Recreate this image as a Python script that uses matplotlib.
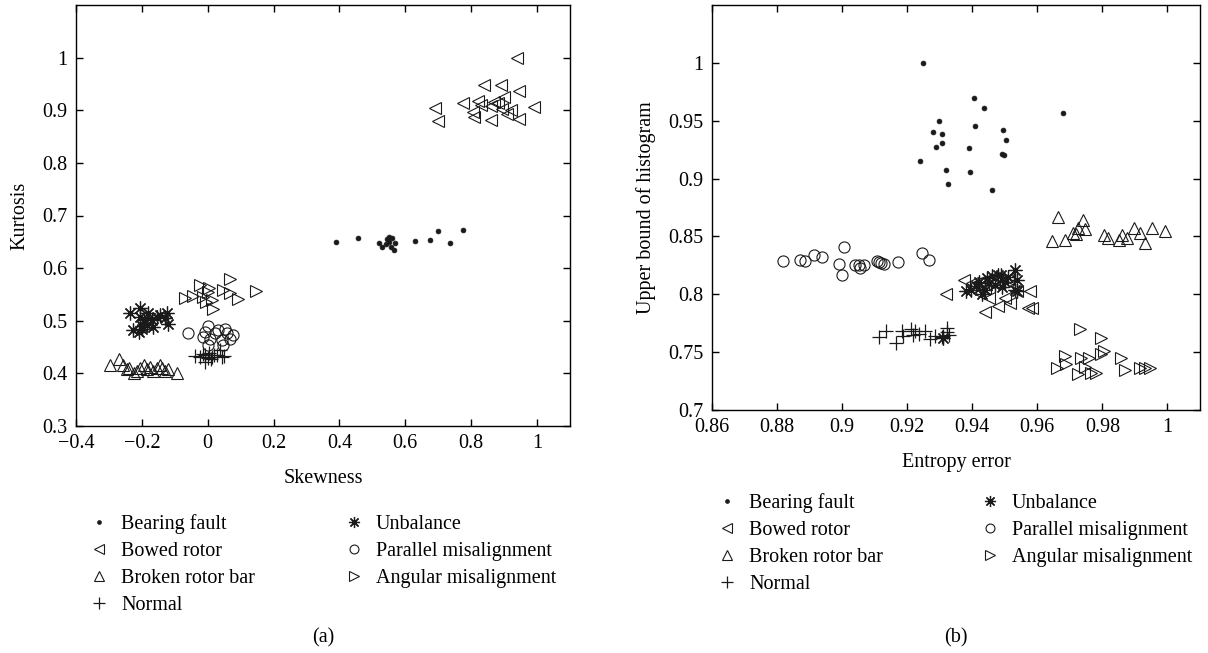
import matplotlib
matplotlib.use("Agg")
import matplotlib.pyplot as plt
from matplotlib.ticker import FuncFormatter

plt.rcParams['font.family'] = ['Liberation Serif', 'DejaVu Serif']
plt.rcParams['font.size'] = 14.5

# ---- panel (a): skewness vs kurtosis ----
bearing_a_x = [0.39, 0.455, 0.52, 0.53, 0.54, 0.545, 0.55, 0.55, 0.555, 0.56, 0.565, 0.57, 0.628, 0.676, 0.699, 0.737, 0.775]
bearing_a_y = [0.650, 0.658, 0.648, 0.640, 0.645, 0.655, 0.660, 0.650, 0.640, 0.657, 0.635, 0.648, 0.651, 0.653, 0.670, 0.647, 0.672]
bowed_a_x = [0.69, 0.70, 0.775, 0.805, 0.81, 0.82, 0.83, 0.84, 0.86, 0.86, 0.87, 0.88, 0.89, 0.895, 0.90, 0.91, 0.92, 0.946, 0.946, 0.94, 0.99]
bowed_a_y = [0.905, 0.88, 0.914, 0.896, 0.888, 0.917, 0.91, 0.948, 0.909, 0.881, 0.915, 0.913, 0.948, 0.903, 0.925, 0.893, 0.90, 0.936, 0.883, 1.0, 0.906]
broken_a_x = [-0.296, -0.27, -0.256, -0.245, -0.24, -0.225, -0.215, -0.205, -0.195, -0.185, -0.175, -0.165, -0.155, -0.145, -0.14, -0.13, -0.12, -0.094]
broken_a_y = [0.416, 0.428, 0.416, 0.408, 0.41, 0.40, 0.405, 0.41, 0.416, 0.408, 0.413, 0.405, 0.41, 0.416, 0.41, 0.405, 0.408, 0.401]
normal_a_x = [-0.038, -0.023, -0.015, -0.008, 0.0, 0.005, 0.012, 0.02, 0.027, 0.037, 0.042, 0.05, -0.008, 0.01]
normal_a_y = [0.433, 0.432, 0.436, 0.435, 0.43, 0.438, 0.432, 0.434, 0.435, 0.444, 0.431, 0.433, 0.422, 0.428]
unbalance_a_x = [-0.235, -0.227, -0.21, -0.207, -0.205, -0.2, -0.195, -0.19, -0.185, -0.18, -0.17, -0.165, -0.155, -0.145, -0.13, -0.124, -0.122, -0.2]
unbalance_a_y = [0.514, 0.482, 0.479, 0.525, 0.508, 0.485, 0.501, 0.495, 0.492, 0.515, 0.501, 0.488, 0.507, 0.51, 0.505, 0.514, 0.494, 0.49]
parallel_a_x = [-0.059, -0.013, -0.008, 0.002, 0.002, 0.007, 0.022, 0.032, 0.042, 0.047, 0.052, 0.06, 0.068, 0.078]
parallel_a_y = [0.477, 0.47, 0.479, 0.49, 0.454, 0.466, 0.476, 0.482, 0.463, 0.454, 0.485, 0.476, 0.466, 0.473]
angular_a_x = [-0.068, -0.045, -0.023, -0.013, 0.0, 0.003, 0.012, 0.017, 0.047, 0.068, 0.068, 0.093, 0.148, -0.005]
angular_a_y = [0.543, 0.547, 0.568, 0.545, 0.555, 0.562, 0.539, 0.523, 0.558, 0.58, 0.552, 0.542, 0.557, 0.535]

# ---- panel (b): entropy error vs upper bound of histogram ----
bearing_b_x = [0.925, 0.9405, 0.9435, 0.9297, 0.928, 0.9306, 0.9306, 0.929, 0.9239, 0.932, 0.9325, 0.9408, 0.939, 0.9393, 0.946, 0.9495, 0.9505, 0.949, 0.9499, 0.968]
bearing_b_y = [1.000, 0.970, 0.961, 0.950, 0.9405, 0.9385, 0.931, 0.9276, 0.9153, 0.907, 0.895, 0.9457, 0.9267, 0.906, 0.890, 0.9417, 0.9336, 0.9216, 0.9204, 0.957]
bowed_b_x = [0.932, 0.9375, 0.942, 0.942, 0.944, 0.944, 0.945, 0.9466, 0.950, 0.951, 0.9517, 0.9537, 0.957, 0.9578, 0.9583, 0.94, 0.948]
bowed_b_y = [0.800, 0.8127, 0.811, 0.801, 0.805, 0.785, 0.797, 0.8097, 0.797, 0.813, 0.7925, 0.8026, 0.788, 0.8026, 0.788, 0.81, 0.79]
broken_b_x = [0.9644, 0.9664, 0.9684, 0.971, 0.9719, 0.9725, 0.974, 0.9745, 0.9806, 0.9816, 0.9851, 0.9861, 0.9877, 0.9897, 0.9917, 0.9932, 0.9952, 0.9993]
broken_b_y = [0.8457, 0.867, 0.847, 0.853, 0.852, 0.857, 0.864, 0.856, 0.8515, 0.8486, 0.847, 0.8515, 0.849, 0.857, 0.853, 0.844, 0.857, 0.855]
normal_b_x = [0.9112, 0.9134, 0.9165, 0.9183, 0.9188, 0.9213, 0.9223, 0.9218, 0.9235, 0.9254, 0.9269, 0.9284, 0.9308, 0.931, 0.9322, 0.9322, 0.9328]
normal_b_y = [0.7629, 0.7681, 0.758, 0.768, 0.764, 0.7696, 0.768, 0.765, 0.766, 0.768, 0.761, 0.764, 0.7629, 0.764, 0.771, 0.767, 0.765]
unbalance_b_x = [0.938, 0.9396, 0.942, 0.944, 0.9446, 0.945, 0.946, 0.947, 0.948, 0.9487, 0.949, 0.950, 0.951, 0.9532, 0.9537, 0.9532, 0.9537, 0.941, 0.943, 0.931]
unbalance_b_y = [0.803, 0.804, 0.811, 0.804, 0.814, 0.81, 0.816, 0.808, 0.817, 0.817, 0.806, 0.811, 0.815, 0.821, 0.8127, 0.804, 0.8026, 0.807, 0.800, 0.762]
parallel_b_x = [0.8819, 0.8872, 0.8886, 0.8915, 0.8938, 0.8991, 0.9006, 0.8999, 0.9041, 0.9052, 0.9056, 0.9066, 0.9107, 0.9113, 0.912, 0.913, 0.9171, 0.9245, 0.9266]
parallel_b_y = [0.8284, 0.8293, 0.8284, 0.8336, 0.8322, 0.8264, 0.8408, 0.8164, 0.8256, 0.825, 0.8227, 0.825, 0.8284, 0.8277, 0.827, 0.826, 0.8276, 0.8356, 0.8293]
angular_b_x = [0.973, 0.9796, 0.9806, 0.9684, 0.9659, 0.9689, 0.9724, 0.9735, 0.976, 0.9765, 0.978, 0.9796, 0.9856, 0.9871, 0.9917, 0.9932, 0.9947, 0.9745]
angular_b_y = [0.7696, 0.7624, 0.751, 0.7466, 0.7365, 0.7394, 0.7308, 0.745, 0.745, 0.732, 0.732, 0.748, 0.745, 0.735, 0.7365, 0.7365, 0.736, 0.737]

labels = ['Bearing fault', 'Bowed rotor', 'Broken rotor bar', 'Normal',
          'Unbalance', 'Parallel misalignment', 'Angular misalignment']

INK = '#1a1a1a'
styles = [
    dict(marker='o', ms=3.5, mfc=INK, mec=INK, mew=0.5),
    dict(marker='<', ms=9, mfc='none', mec=INK, mew=0.8),
    dict(marker='^', ms=9, mfc='none', mec=INK, mew=0.8),
    dict(marker='+', ms=10, mec=INK, mew=0.9),
    dict(marker=(8, 2, 0), ms=10, mec=INK, mew=0.9),
    dict(marker='o', ms=8, mfc='none', mec=INK, mew=0.8),
    dict(marker='>', ms=9, mfc='none', mec=INK, mew=0.8),
]


def fmt(v, _pos):
    return ('%g' % round(v, 3)).replace('-', '\u2212')


def draw_panel(ax, series, xlim, ylim, xticks, yticks, xlabel, ylabel):
    handles = []
    for (xs, ys), st, lab in zip(series, styles, labels):
        h, = ax.plot(xs, ys, ls='none', label=lab, **st)
        handles.append(h)
    ax.set_xlim(*xlim)
    ax.set_ylim(*ylim)
    ax.set_xticks(xticks)
    ax.set_yticks(yticks)
    ax.xaxis.set_major_formatter(FuncFormatter(fmt))
    ax.yaxis.set_major_formatter(FuncFormatter(fmt))
    ax.tick_params(direction='in', length=5, width=1, top=True, right=True,
                   labelsize=14.5, pad=6)
    for sp in ax.spines.values():
        sp.set_linewidth(1)
    ax.set_xlabel(xlabel, fontsize=14.5, labelpad=11)
    ax.set_ylabel(ylabel, fontsize=14.5, labelpad=9)
    return handles


fig = plt.figure(figsize=(12.08, 6.53), dpi=100)
W, H = 1208, 653

ax_a = fig.add_axes([76 / W, 1 - 426 / H, 494 / W, 421 / H])
ax_b = fig.add_axes([712 / W, 1 - 410 / H, 488 / W, 405 / H])

series_a = [(bearing_a_x, bearing_a_y), (bowed_a_x, bowed_a_y), (broken_a_x, broken_a_y),
            (normal_a_x, normal_a_y), (unbalance_a_x, unbalance_a_y),
            (parallel_a_x, parallel_a_y), (angular_a_x, angular_a_y)]
series_b = [(bearing_b_x, bearing_b_y), (bowed_b_x, bowed_b_y), (broken_b_x, broken_b_y),
            (normal_b_x, normal_b_y), (unbalance_b_x, unbalance_b_y),
            (parallel_b_x, parallel_b_y), (angular_b_x, angular_b_y)]

h_a = draw_panel(ax_a, series_a, (-0.4, 1.1), (0.3, 1.1),
                 [-0.4, -0.2, 0, 0.2, 0.4, 0.6, 0.8, 1.0],
                 [0.3, 0.4, 0.5, 0.6, 0.7, 0.8, 0.9, 1.0],
                 'Skewness', 'Kurtosis')
h_b = draw_panel(ax_b, series_b, (0.86, 1.01), (0.7, 1.05),
                 [0.86, 0.88, 0.9, 0.92, 0.94, 0.96, 0.98, 1.0],
                 [0.7, 0.75, 0.8, 0.85, 0.9, 0.95, 1.0],
                 'Entropy error', 'Upper bound of histogram')

leg_kw = dict(ncol=2, frameon=False, loc='upper left', fontsize=14.5,
              handlelength=1.0, handletextpad=0.6, borderpad=0, borderaxespad=0,
              labelspacing=0.4, numpoints=1, markerscale=0.8)
fig.legend(handles=h_a, bbox_to_anchor=(89 / W, 1 - 514 / H), columnspacing=4.4, **leg_kw)
fig.legend(handles=h_b, bbox_to_anchor=(717 / W, 1 - 493 / H), columnspacing=4.8, **leg_kw)

fig.text(323 / W, 1 - 638 / H, '(a)', ha='center', va='center', fontsize=14.5)
fig.text(956 / W, 1 - 638 / H, '(b)', ha='center', va='center', fontsize=14.5)

fig.savefig('out.png', dpi=100)
